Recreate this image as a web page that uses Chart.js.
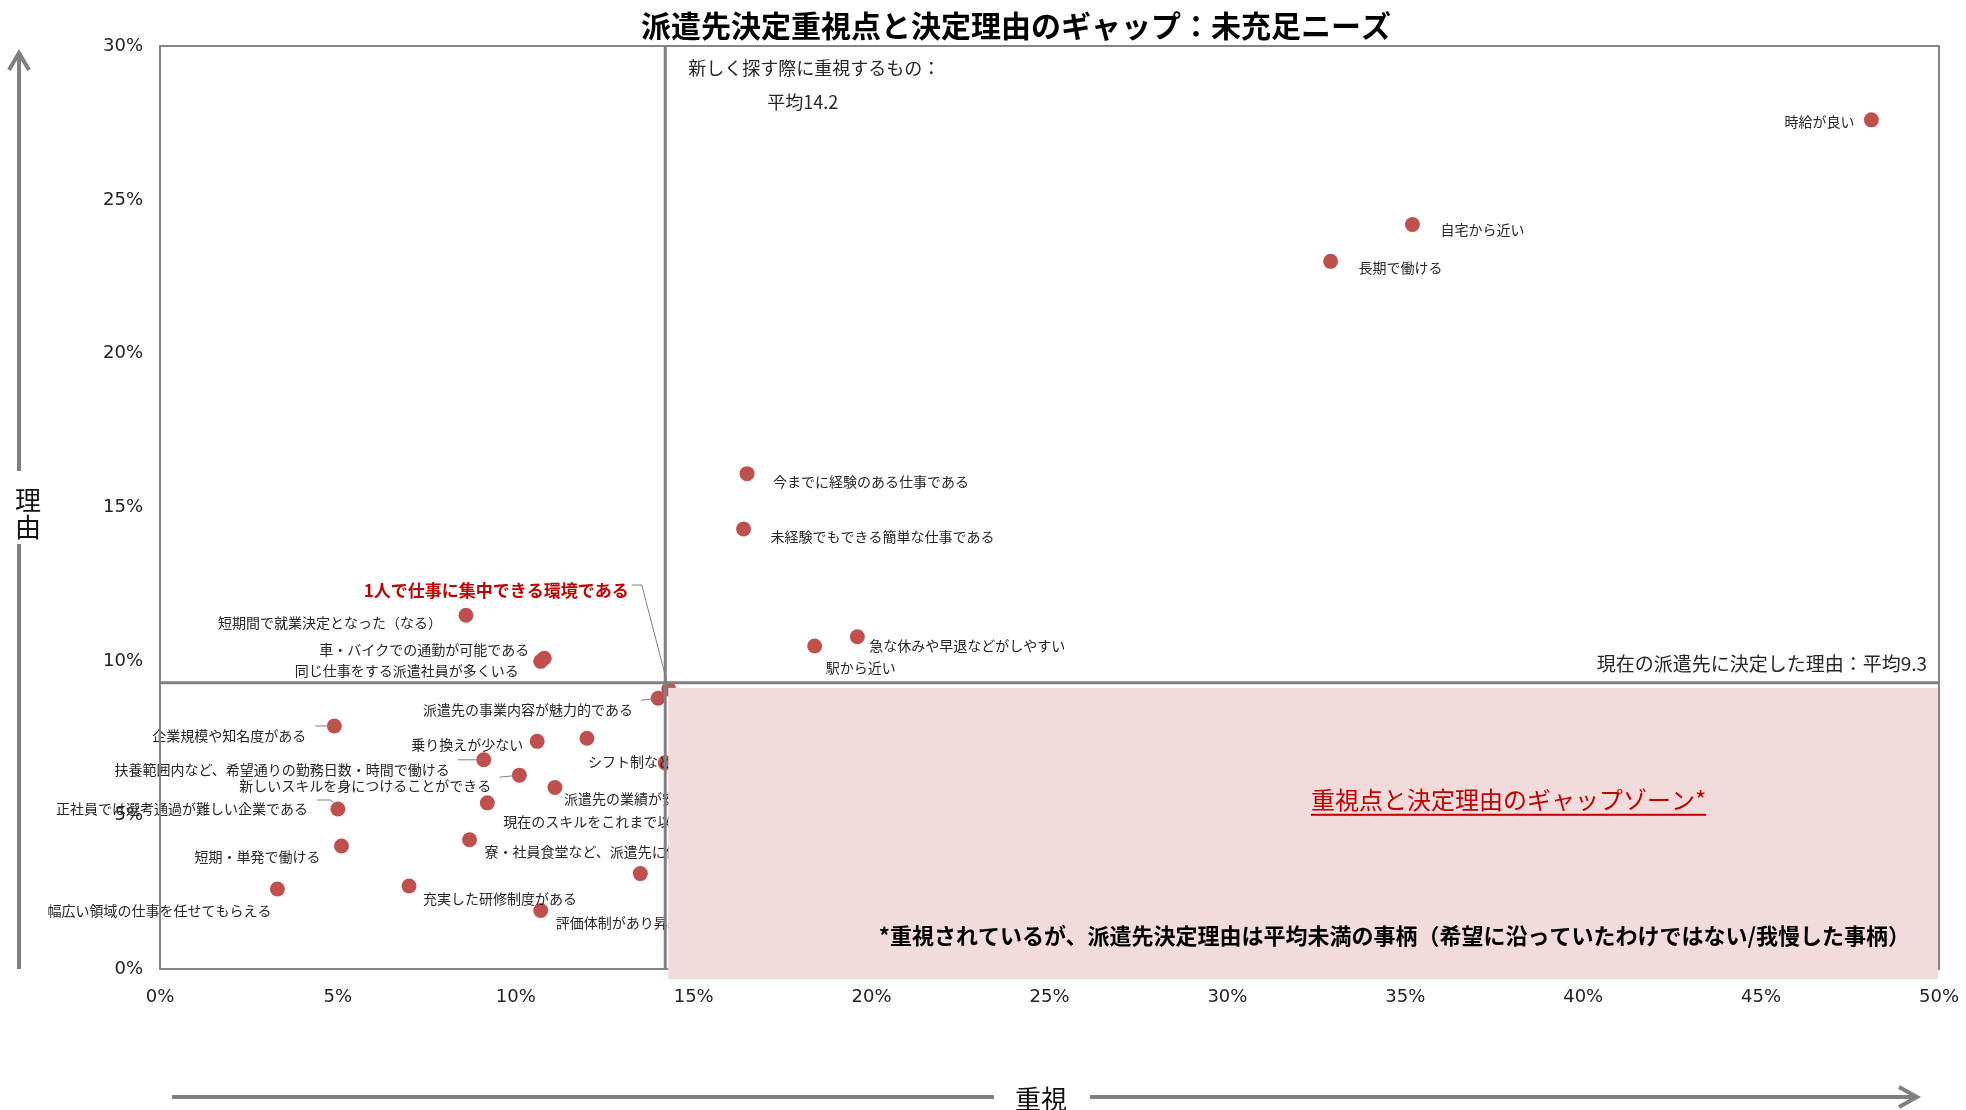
<!DOCTYPE html>
<html>
<head>
<meta charset="utf-8">
<script src="https://cdn.jsdelivr.net/npm/chart.js@4.4.1/dist/chart.umd.min.js"></script>
<style>
  html, body { margin: 0; padding: 0; background: #fff; }
  canvas { display: block; }
</style>
</head>
<body>
<canvas id="chart" width="1966" height="1110"></canvas>
<script>
// items: 重視 (importance when searching) vs 理由 (reason for current choice), in %
const items = [
  "時給が良い",
  "自宅から近い",
  "長期で働ける",
  "今までに経験のある仕事である",
  "未経験でもできる簡単な仕事である",
  "急な休みや早退などがしやすい",
  "駅から近い",
  "短期間で就業決定となった（なる）",
  "車・バイクでの通勤が可能である",
  "同じ仕事をする派遣社員が多くいる",
  "1人で仕事に集中できる環境である",
  "派遣先の事業内容が魅力的である",
  "企業規模や知名度がある",
  "乗り換えが少ない",
  "シフト制など、働き方の融通が利く",
  "扶養範囲内など、希望通りの勤務日数・時間で働ける",
  "新しいスキルを身につけることができる",
  "派遣先の業績が安定している",
  "正社員では選考通過が難しい企業である",
  "現在のスキルをこれまで以上に活かせる",
  "寮・社員食堂など、派遣先に働きやすい設備がある",
  "短期・単発で働ける",
  "幅広い領域の仕事を任せてもらえる",
  "充実した研修制度がある",
  "評価体制があり昇給が見込める",
  "",
  ""
];
const importance = [48.1, 35.2, 32.9, 16.5, 16.4, 19.6, 18.4, 8.6, 10.8, 10.7, 14.3, 14.0, 4.9, 10.6, 12.0, 9.1, 10.1, 11.1, 5.0, 9.2, 8.7, 5.1, 3.3, 7.0, 10.7, 13.5, 14.2];
const reason     = [27.6, 24.2, 23.0, 16.1, 14.3, 10.8, 10.5, 11.5, 10.1, 10.0, 9.1, 8.8, 7.9, 7.4, 7.5, 6.8, 6.3, 5.9, 5.2, 5.4, 4.2, 4.0, 2.6, 2.7, 1.9, 3.1, 6.7];

const xTickValues = [0, 5, 10, 15, 20, 25, 30, 35, 40, 45, 50];
const yTickValues = [0, 5, 10, 15, 20, 25, 30];

const meanImportance = 14.2;
const meanReason = 9.3;
const highlight = 10; // red label

// label placement relative to each point: [dx, dy, align]
const labelLayout = [
  [-17, 2, "right"], [28, 5, "left"], [28, 6, "left"], [26, 8, "left"], [27, 8, "left"],
  [12, 9, "left"], [11, 22, "left"], [-24, 8, "right"], [-15, -9, "right"], [-22, 9, "right"],
  [-40, -98, "right"], [-25, 11, "right"], [-28, 10, "right"], [-14, 3, "right"], [1, 23, "left"],
  [-34, 10, "right"], [-28, 11, "right"], [9, 11, "left"], [-30, 0, "right"], [16, 19, "left"],
  [15, 12, "left"], [-21, 11, "right"], [-6, 22, "right"], [14, 13, "left"], [15, 12, "left"],
  [15, 10, "left"], [15, 10, "left"]
];
// leader lines (offsets from the point)
const leaders = {
  10: [[-37, -104], [-27, -104], [0, 0]],
  11: [[-17, 2], [0, 0]],
  12: [[-19, 0], [0, 0]],
  15: [[-26, 0], [0, 0]],
  16: [[-20, 2], [0, 0]],
  18: [[-21, -9], [-7, -9], [0, 0]]
};

const JP = '"Noto Sans CJK JP", "Noto Sans", sans-serif';

const overlay = {
  id: "overlay",
  afterDatasetsDraw(chart) {
    const { ctx, chartArea: a, scales: { x, y } } = chart;
    const meta = chart.getDatasetMeta(0);
    ctx.save();

    // point labels
    ctx.textBaseline = "middle";
    meta.data.forEach((pt, i) => {
      const [dx, dy, align] = labelLayout[i];
      const hot = i === highlight;
      ctx.font = (hot ? "bold 17px " : "14px ") + JP;
      ctx.fillStyle = hot ? "#c00000" : "#262626";
      ctx.textAlign = align;
      ctx.fillText(items[i], pt.x + dx, pt.y + dy);
      const lead = leaders[i];
      if (lead) {
        ctx.strokeStyle = "#7f7f7f";
        ctx.lineWidth = 1;
        ctx.beginPath();
        lead.forEach(([lx, ly], k) => {
          if (k === 0) ctx.moveTo(pt.x + lx, pt.y + ly);
          else ctx.lineTo(pt.x + lx, pt.y + ly);
        });
        ctx.stroke();
      }
    });

    // frame
    ctx.strokeStyle = "#868686";
    ctx.lineWidth = 2;
    ctx.strokeRect(a.left, a.top, a.width, a.height);

    // mean lines
    const mx = x.getPixelForValue(meanImportance);
    const my = y.getPixelForValue(meanReason);
    ctx.strokeStyle = "#808080";
    ctx.lineWidth = 3;
    ctx.beginPath();
    ctx.moveTo(mx, a.top); ctx.lineTo(mx, a.bottom);
    ctx.moveTo(a.left, my); ctx.lineTo(a.right, my);
    ctx.stroke();

    // gap zone
    ctx.fillStyle = "#f2dcdb";
    ctx.fillRect(mx + 3, my + 5, a.right - 1 - (mx + 3), a.bottom + 10 - (my + 5));

    // annotations
    ctx.fillStyle = "#262626";
    ctx.textAlign = "left";
    ctx.font = "18px " + JP;
    ctx.fillText("新しく探す際に重視するもの：", mx + 23, a.top + 22);
    ctx.fillText("平均" + meanImportance, mx + 102, a.top + 56);
    ctx.textAlign = "right";
    ctx.font = "19px " + JP;
    ctx.fillText("現在の派遣先に決定した理由：平均" + meanReason, a.right - 12, my - 19);

    // gap zone caption (underlined)
    const gx = x.getPixelForValue(37.9), gy = y.getPixelForValue(5.5);
    ctx.textAlign = "center";
    ctx.font = "24px " + JP;
    ctx.fillStyle = "#c00000";
    const cap = "重視点と決定理由のギャップゾーン*";
    ctx.fillText(cap, gx, gy);
    const w = ctx.measureText(cap).width;
    ctx.fillRect(gx - w / 2, gy + 14, w, 2);

    ctx.textAlign = "right";
    ctx.font = "bold 22px " + JP;
    ctx.fillStyle = "#000";
    ctx.fillText("*重視されているが、派遣先決定理由は平均未満の事柄（希望に沿っていたわけではない/我慢した事柄）", a.right - 29, y.getPixelForValue(1.07));
    ctx.restore();
  },
  afterDraw(chart) {
    const ctx = chart.ctx;
    ctx.save();
    // title
    ctx.fillStyle = "#000";
    ctx.textAlign = "center";
    ctx.textBaseline = "middle";
    ctx.font = "bold 30px " + JP;
    ctx.fillText("派遣先決定重視点と決定理由のギャップ：未充足ニーズ", 1016, 26);

    // axis arrows
    ctx.strokeStyle = "#808080";
    ctx.lineWidth = 4;
    ctx.lineCap = "butt";
    ctx.beginPath();
    ctx.moveTo(19, chart.chartArea.bottom); ctx.lineTo(19, 544);
    ctx.moveTo(19, 471); ctx.lineTo(19, 53);
    ctx.moveTo(9, 70); ctx.lineTo(19, 53); ctx.lineTo(29, 70);
    ctx.moveTo(172, 1097); ctx.lineTo(994, 1097);
    ctx.moveTo(1090, 1097); ctx.lineTo(1917, 1097);
    ctx.moveTo(1899, 1087); ctx.lineTo(1917, 1097); ctx.lineTo(1899, 1107);
    ctx.stroke();

    ctx.fillStyle = "#111";
    ctx.font = "26px " + JP;
    ctx.fillText("理", 28, 500);
    ctx.fillText("由", 28, 527);
    ctx.fillText("重視", 1041, 1099);
    ctx.restore();
  }
};

new Chart(document.getElementById("chart"), {
  type: "scatter",
  data: {
    datasets: [{
      data: importance.map((v, i) => ({ x: v, y: reason[i] })),
      backgroundColor: "#c0504d",
      borderWidth: 0,
      pointRadius: 7.5,
      pointHoverRadius: 7.5
    }]
  },
  options: {
    responsive: false,
    animation: false,
    devicePixelRatio: 1,
    layout: { padding: { top: 46, right: 27, left: 0, bottom: 0 } },
    plugins: { legend: { display: false }, tooltip: { enabled: false } },
    events: [],
    scales: {
      x: {
        type: "linear",
        min: 0, max: 50,
        afterBuildTicks: s => { s.ticks = xTickValues.map(v => ({ value: v })); },
        afterFit: s => { s.height = 141; s.paddingRight = 0; s.paddingLeft = 0; },
        grid: { display: false, drawTicks: false },
        border: { display: false },
        ticks: { padding: 18, color: "#222", font: { family: "DejaVu Sans", size: 18 }, callback: v => v + "%" }
      },
      y: {
        type: "linear",
        min: 0, max: 30,
        afterBuildTicks: s => { s.ticks = yTickValues.map(v => ({ value: v })); },
        afterFit: s => { s.width = 160; },
        grid: { display: false, drawTicks: false },
        border: { display: false },
        ticks: { padding: 17, color: "#222", font: { family: "DejaVu Sans", size: 18 }, callback: v => v + "%" }
      }
    }
  },
  plugins: [overlay]
});
</script>
</body>
</html>
